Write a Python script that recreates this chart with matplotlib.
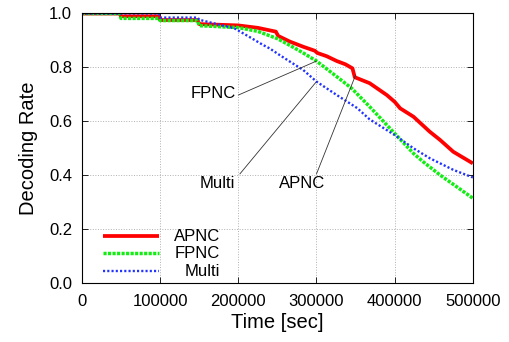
import matplotlib
matplotlib.use("Agg")
import matplotlib.pyplot as plt

plt.rcParams['font.family'] = ['Liberation Sans', 'DejaVu Sans']

# time [sec] and decoding rate for each scheme
apnc_t = [0, 48000, 50000, 98000, 100000, 148000, 150000, 200000, 225000,
          248000, 251000, 266000, 283000, 298000, 301000, 313000, 326000,
          337000, 346000, 349000, 368000, 390000, 400000, 407000, 424000,
          445000, 458000, 475000, 500000]
apnc_r = [0.998, 0.998, 0.988, 0.988, 0.974, 0.974, 0.959, 0.954, 0.945,
          0.931, 0.915, 0.894, 0.875, 0.860, 0.852, 0.840, 0.822,
          0.810, 0.795, 0.762, 0.740, 0.696, 0.671, 0.647, 0.616,
          0.560, 0.530, 0.486, 0.443]

fpnc_t = [0, 48000, 50000, 98000, 100000, 148000, 150000, 200000, 225000,
          250000, 266000, 283000, 300000, 326000, 345000, 368000, 390000,
          400000, 424000, 436000, 458000, 479000, 500000]
fpnc_r = [0.998, 0.998, 0.980, 0.980, 0.972, 0.972, 0.953, 0.946, 0.932,
          0.905, 0.880, 0.852, 0.822, 0.764, 0.721, 0.653, 0.585,
          0.554, 0.480, 0.450, 0.400, 0.357, 0.314]

multi_t = [0, 98000, 100000, 148000, 150000, 195000, 200000, 215000, 232000,
           240000, 253000, 266000, 283000, 300000, 326000, 352000, 368000,
           400000, 424000, 445000, 475000, 500000]
multi_r = [0.998, 0.998, 0.983, 0.983, 0.975, 0.943, 0.935, 0.910, 0.881,
           0.869, 0.844, 0.820, 0.789, 0.746, 0.696, 0.648, 0.606,
           0.548, 0.499, 0.462, 0.419, 0.391]

x_ticks = [0, 100000, 200000, 300000, 400000, 500000]
y_ticks = [0.0, 0.2, 0.4, 0.6, 0.8, 1.0]

fig = plt.figure(figsize=(5.09, 3.42), dpi=100)
ax = fig.add_axes([0.161, 0.1725, 0.768, 0.7895])

red = dict(color='#ff0000', lw=2.7, solid_capstyle='butt')
green = dict(color='#11ee11', lw=2.5, dashes=(0.9, 0.4))
blue = dict(color='#2233ff', lw=1.7, dashes=(0.9, 0.9))

ax.plot(apnc_t, apnc_r, **red)
ax.plot(fpnc_t, fpnc_r, **green)
ax.plot(multi_t, multi_r, **blue)

ax.set_xlim(0, 500000)
ax.set_ylim(0, 1.0)
ax.set_xticks(x_ticks)
ax.set_xticklabels([str(v) for v in x_ticks])
ax.set_yticks(y_ticks)
ax.set_yticklabels(['%.1f' % v for v in y_ticks])
ax.tick_params(direction='in', length=4, width=0.6, labelsize=12,
               top=True, right=True)
ax.tick_params(axis='x', pad=8)
ax.tick_params(axis='y', pad=7)
ax.grid(True, color='#b0b0b0', ls=':', lw=0.7)
for s in ax.spines.values():
    s.set_linewidth(0.8)

ax.set_xlabel('Time [sec]', fontsize=14.5, labelpad=3)
ax.set_ylabel('Decoding Rate', fontsize=14.5, labelpad=8)

# callouts
line_kw = dict(arrowprops=dict(arrowstyle='-', lw=0.6, color='#333333',
                               shrinkA=0, shrinkB=0))
ax.annotate('', xy=(300000, 0.822), xytext=(200000, 0.696), **line_kw)
ax.text(197000, 0.70, 'FPNC', ha='right', va='center', fontsize=12)
ax.annotate('', xy=(300000, 0.746), xytext=(202000, 0.404), **line_kw)
ax.text(196000, 0.367, 'Multi', ha='right', va='center', fontsize=12)
ax.annotate('', xy=(350000, 0.77), xytext=(300000, 0.404), **line_kw)
ax.text(281000, 0.367, 'APNC', ha='center', va='center', fontsize=12)

# key, gnuplot style: sample first, label right-justified
keys = [('APNC', red, 0.174), ('FPNC', green, 0.111), ('Multi', blue, 0.044)]
for name, style, yk in keys:
    ax.plot([0.054, 0.197], [yk, yk], transform=ax.transAxes, **style)
    ax.text(0.353, yk, name, transform=ax.transAxes, ha='right',
            va='center', fontsize=12)

fig.savefig('out.png', dpi=100)
